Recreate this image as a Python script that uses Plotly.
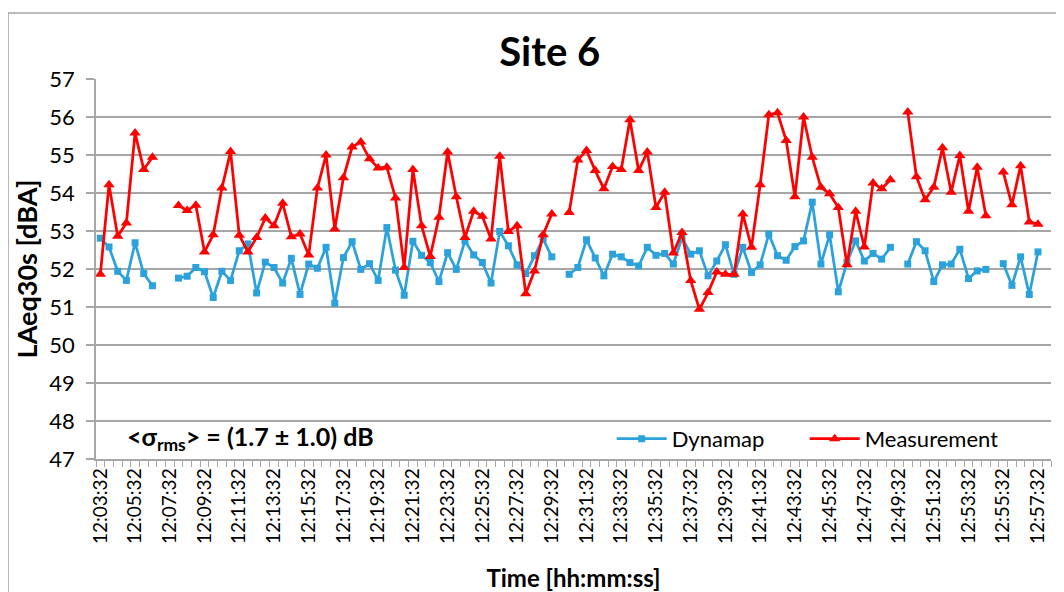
import plotly.graph_objects as go
from datetime import datetime, timedelta

# ---- data ----
start = datetime(2000, 1, 1, 12, 3, 32)
n_cat = 110
times = [(start + timedelta(seconds=30 * i)).strftime("%H:%M:%S") for i in range(n_cat)]

dynamap = [
    52.81, 52.58, 51.94, 51.70, 52.69, 51.88, 51.56, None, None, 51.76,
    51.81, 52.04, 51.93, 51.25, 51.94, 51.70, 52.48, 52.66, 51.37, 52.18,
    52.04, 51.63, 52.28, 51.33, 52.13, 52.02, 52.57, 51.10, 52.30, 52.72,
    51.99, 52.14, 51.70, 53.09, 51.97, 51.31, 52.73, 52.36, 52.17, 51.67,
    52.43, 51.99, 52.74, 52.37, 52.17, 51.63, 52.99, 52.61, 52.11, 51.88,
    52.35, 52.79, 52.32, None, 51.86, 52.04, 52.77, 52.29, 51.82, 52.39,
    52.32, 52.17, 52.08, 52.57, 52.36, 52.41, 52.13, 52.83, 52.39, 52.48,
    51.82, 52.21, 52.64, 51.86, 52.57, 51.91, 52.11, 52.92, 52.35, 52.23,
    52.59, 52.74, 53.76, 52.13, 52.90, 51.40, 52.17, 52.74, 52.21, 52.41,
    52.26, 52.57, None, 52.13, 52.72, 52.48, 51.67, 52.11, 52.13, 52.52,
    51.75, 51.95, 51.99, None, 52.14, 51.57, 52.32, 51.33, 52.45, None,
]

measurement = [
    51.86, 54.22, 52.86, 53.21, 55.58, 54.62, 54.94, None, None, 53.67,
    53.54, 53.68, 52.45, 52.90, 54.13, 55.09, 52.89, 52.45, 52.83, 53.34,
    53.14, 53.73, 52.85, 52.92, 52.37, 54.13, 55.00, 53.05, 54.40, 55.21,
    55.34, 54.90, 54.66, 54.68, 53.87, 52.04, 54.62, 53.14, 52.33, 53.36,
    55.08, 53.90, 52.83, 53.52, 53.39, 52.79, 54.97, 52.99, 53.14, 51.35,
    51.95, 52.90, 53.45, None, 53.49, 54.87, 55.12, 54.59, 54.11, 54.70,
    54.62, 55.93, 54.59, 55.08, 53.62, 54.02, 52.42, 52.96, 51.70, 50.94,
    51.38, 51.92, 51.86, 51.86, 53.45, 52.57, 54.22, 56.06, 56.11, 55.38,
    53.90, 56.00, 54.94, 54.15, 53.98, 53.62, 52.11, 53.52, 52.58, 54.26,
    54.11, 54.35, None, 56.13, 54.43, 53.82, 54.15, 55.19, 54.02, 54.99,
    53.52, 54.68, 53.40, None, 54.55, 53.69, 54.72, 53.24, 53.18, None,
]

tick_text = [t if i % 4 == 0 and i <= 108 else "" for i, t in enumerate(times)]

FONT = "Lato"
BLUE = "#2CA2DC"
RED = "#FF0000"
GRID = "#A6A6A6"

fig = go.Figure()
fig.add_trace(go.Scatter(
    x=times, y=dynamap, name="Dynamap", mode="lines+markers",
    line=dict(color=BLUE, width=2.75),
    marker=dict(symbol="square", size=7, color=BLUE),
    connectgaps=False,
))
fig.add_trace(go.Scatter(
    x=times, y=measurement, name="Measurement", mode="lines+markers",
    line=dict(color=RED, width=2.75),
    marker=dict(symbol="triangle-up", size=10, color=RED),
    connectgaps=False,
))

fig.update_layout(
    width=1056, height=584,
    margin=dict(l=88, r=13, t=71, b=133, autoexpand=False),
    paper_bgcolor="white", plot_bgcolor="white",
    font=dict(family=FONT, color="black"),
    title=dict(text="<b>Site 6</b>", x=0.513, xanchor="center", y=0.925, yanchor="middle",
               font=dict(size=40, family=FONT, color="black")),
    showlegend=True,
    legend=dict(orientation="h", x=0.54, xanchor="left", y=0.053, yanchor="middle",
                font=dict(size=22, family=FONT), bgcolor="rgba(0,0,0,0)",
                entrywidth=128, entrywidthmode="pixels", itemwidth=50,
                tracegroupgap=0),
    xaxis=dict(
        type="category", automargin=False,
        categoryorder="array", categoryarray=times,
        range=[-0.5, n_cat - 0.5],
        tickmode="array", tickvals=times, ticktext=tick_text,
        tickson="boundaries",
        ticks="outside", ticklen=6, tickcolor=GRID, tickwidth=1,
        tickangle=-90, tickfont=dict(size=19, family=FONT),
        showline=True, linecolor=GRID, linewidth=1.5,
        showgrid=False, zeroline=False,
        title=dict(text="<b>Time [hh:mm:ss]</b>", font=dict(size=24, family=FONT), standoff=28),
    ),
    yaxis=dict(
        range=[47, 57], dtick=1, tick0=47, automargin=False,
        ticks="outside", ticklen=8, tickcolor=GRID, tickwidth=1.5,
        tickfont=dict(size=22, family=FONT), ticklabelstandoff=7,
        showline=True, linecolor=GRID, linewidth=1.5,
        showgrid=True, gridcolor=GRID, gridwidth=1.5,
        zeroline=False,
        title=dict(text="<b>LAeq30s [dBA]</b>", font=dict(size=27, family=FONT), standoff=4),
    ),
    annotations=[dict(
        text="<b>&lt;σ<sub>rms</sub>&gt; = (1.7 ± 1.0) dB</b>",
        xref="paper", yref="paper", x=0.03, y=0.055, xanchor="left", yanchor="middle",
        showarrow=False, font=dict(size=25, family=FONT, color="black"),
    )],
    shapes=[dict(
        type="rect", xref="paper", yref="paper",
        x0=-0.0921, x1=1.2, y0=-0.4, y1=1.1737,
        line=dict(color="#A6A6A6", width=1.5), fillcolor="rgba(0,0,0,0)", layer="below",
    )],
)

fig.write_html("out.html")
